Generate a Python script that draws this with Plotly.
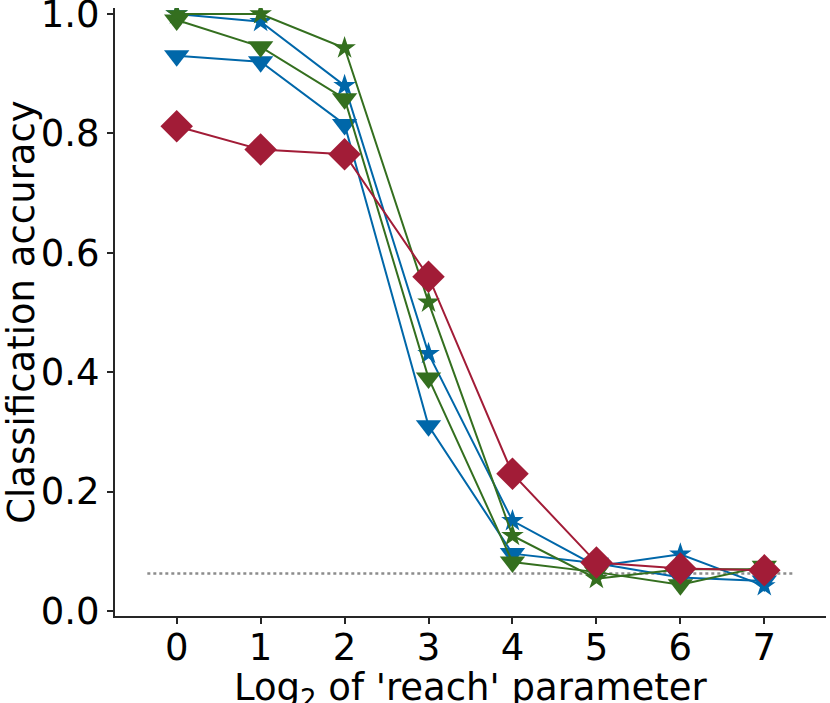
import plotly.graph_objects as go

# log2 of the 'reach' parameter
reach_log2 = [0, 1, 2, 3, 4, 5, 6, 7]

# classification accuracy per model
blue_tri = [0.930, 0.920, 0.815, 0.310, 0.096, 0.080, 0.056, 0.050]
blue_star = [1.000, 0.987, 0.880, 0.431, 0.151, 0.075, 0.095, 0.042]
green_tri = [0.990, 0.945, 0.858, 0.390, 0.082, 0.065, 0.044, 0.075]
green_star = [1.000, 1.000, 0.943, 0.517, 0.126, 0.054, 0.070, 0.070]
red_diam = [0.812, 0.773, 0.765, 0.560, 0.230, 0.081, 0.071, 0.068]

chance = 1 / 16
chance_x = [-0.35, 7.35]

BLUE = "#0067a9"
GREEN = "#346f1f"
RED = "#a21c37"
FONT = "DejaVu Sans"
FS = 37

fig = go.Figure()

# chance level
fig.add_trace(go.Scatter(x=chance_x, y=[chance, chance], mode="lines",
                         line=dict(color="#8c8c8c", width=2.5, dash="dot"),
                         showlegend=False, hoverinfo="skip"))

series = [
    (blue_tri, BLUE, "triangle-down", 22),
    (blue_star, BLUE, "star", 17),
    (green_tri, GREEN, "triangle-down", 22),
    (green_star, GREEN, "star", 17),
    (red_diam, RED, "diamond", 25),
]
for vals, col, sym, sz in series:
    fig.add_trace(go.Scatter(
        x=reach_log2, y=vals, mode="lines+markers",
        line=dict(color=col, width=2),
        marker=dict(symbol=sym, size=sz, color=col, line=dict(width=0)),
        showlegend=False))

axis_common = dict(
    showline=True, linecolor="#262626", linewidth=2,
    ticks="outside", ticklen=6, tickwidth=1.5, tickcolor="#262626",
    showgrid=False, zeroline=False, ticklabeloverflow="allow",
    tickfont=dict(family=FONT, size=FS, color="black"),
)

fig.update_xaxes(range=[-0.735, 7.735], tickvals=reach_log2,
                 ticklabelstandoff=-8, **axis_common)
fig.update_yaxes(
    range=[-0.0085, 1.01], tickvals=[0, 0.2, 0.4, 0.6, 0.8, 1.0],
    tickformat=".1f",
    title=dict(text="Classification accuracy",
               font=dict(family=FONT, size=FS, color="black"), standoff=0),
    **axis_common)

# x title as annotation so it can run off the bottom edge like the original
fig.add_annotation(text="Log<sub>2</sub> of 'reach' parameter",
                   xref="paper", yref="paper", x=0.5, y=0,
                   xanchor="center", yanchor="top", yshift=-48,
                   showarrow=False,
                   font=dict(family=FONT, size=FS, color="black"))

fig.update_layout(
    width=830, height=703,
    margin=dict(l=115, r=4, t=8, b=87, autoexpand=False),
    plot_bgcolor="white", paper_bgcolor="white",
    font=dict(family=FONT),
)

# drop the default body margin so the figure sits at the window corner
fig.write_html("out.html", config={"displayModeBar": False},
               post_script="document.body.style.margin='0';")
